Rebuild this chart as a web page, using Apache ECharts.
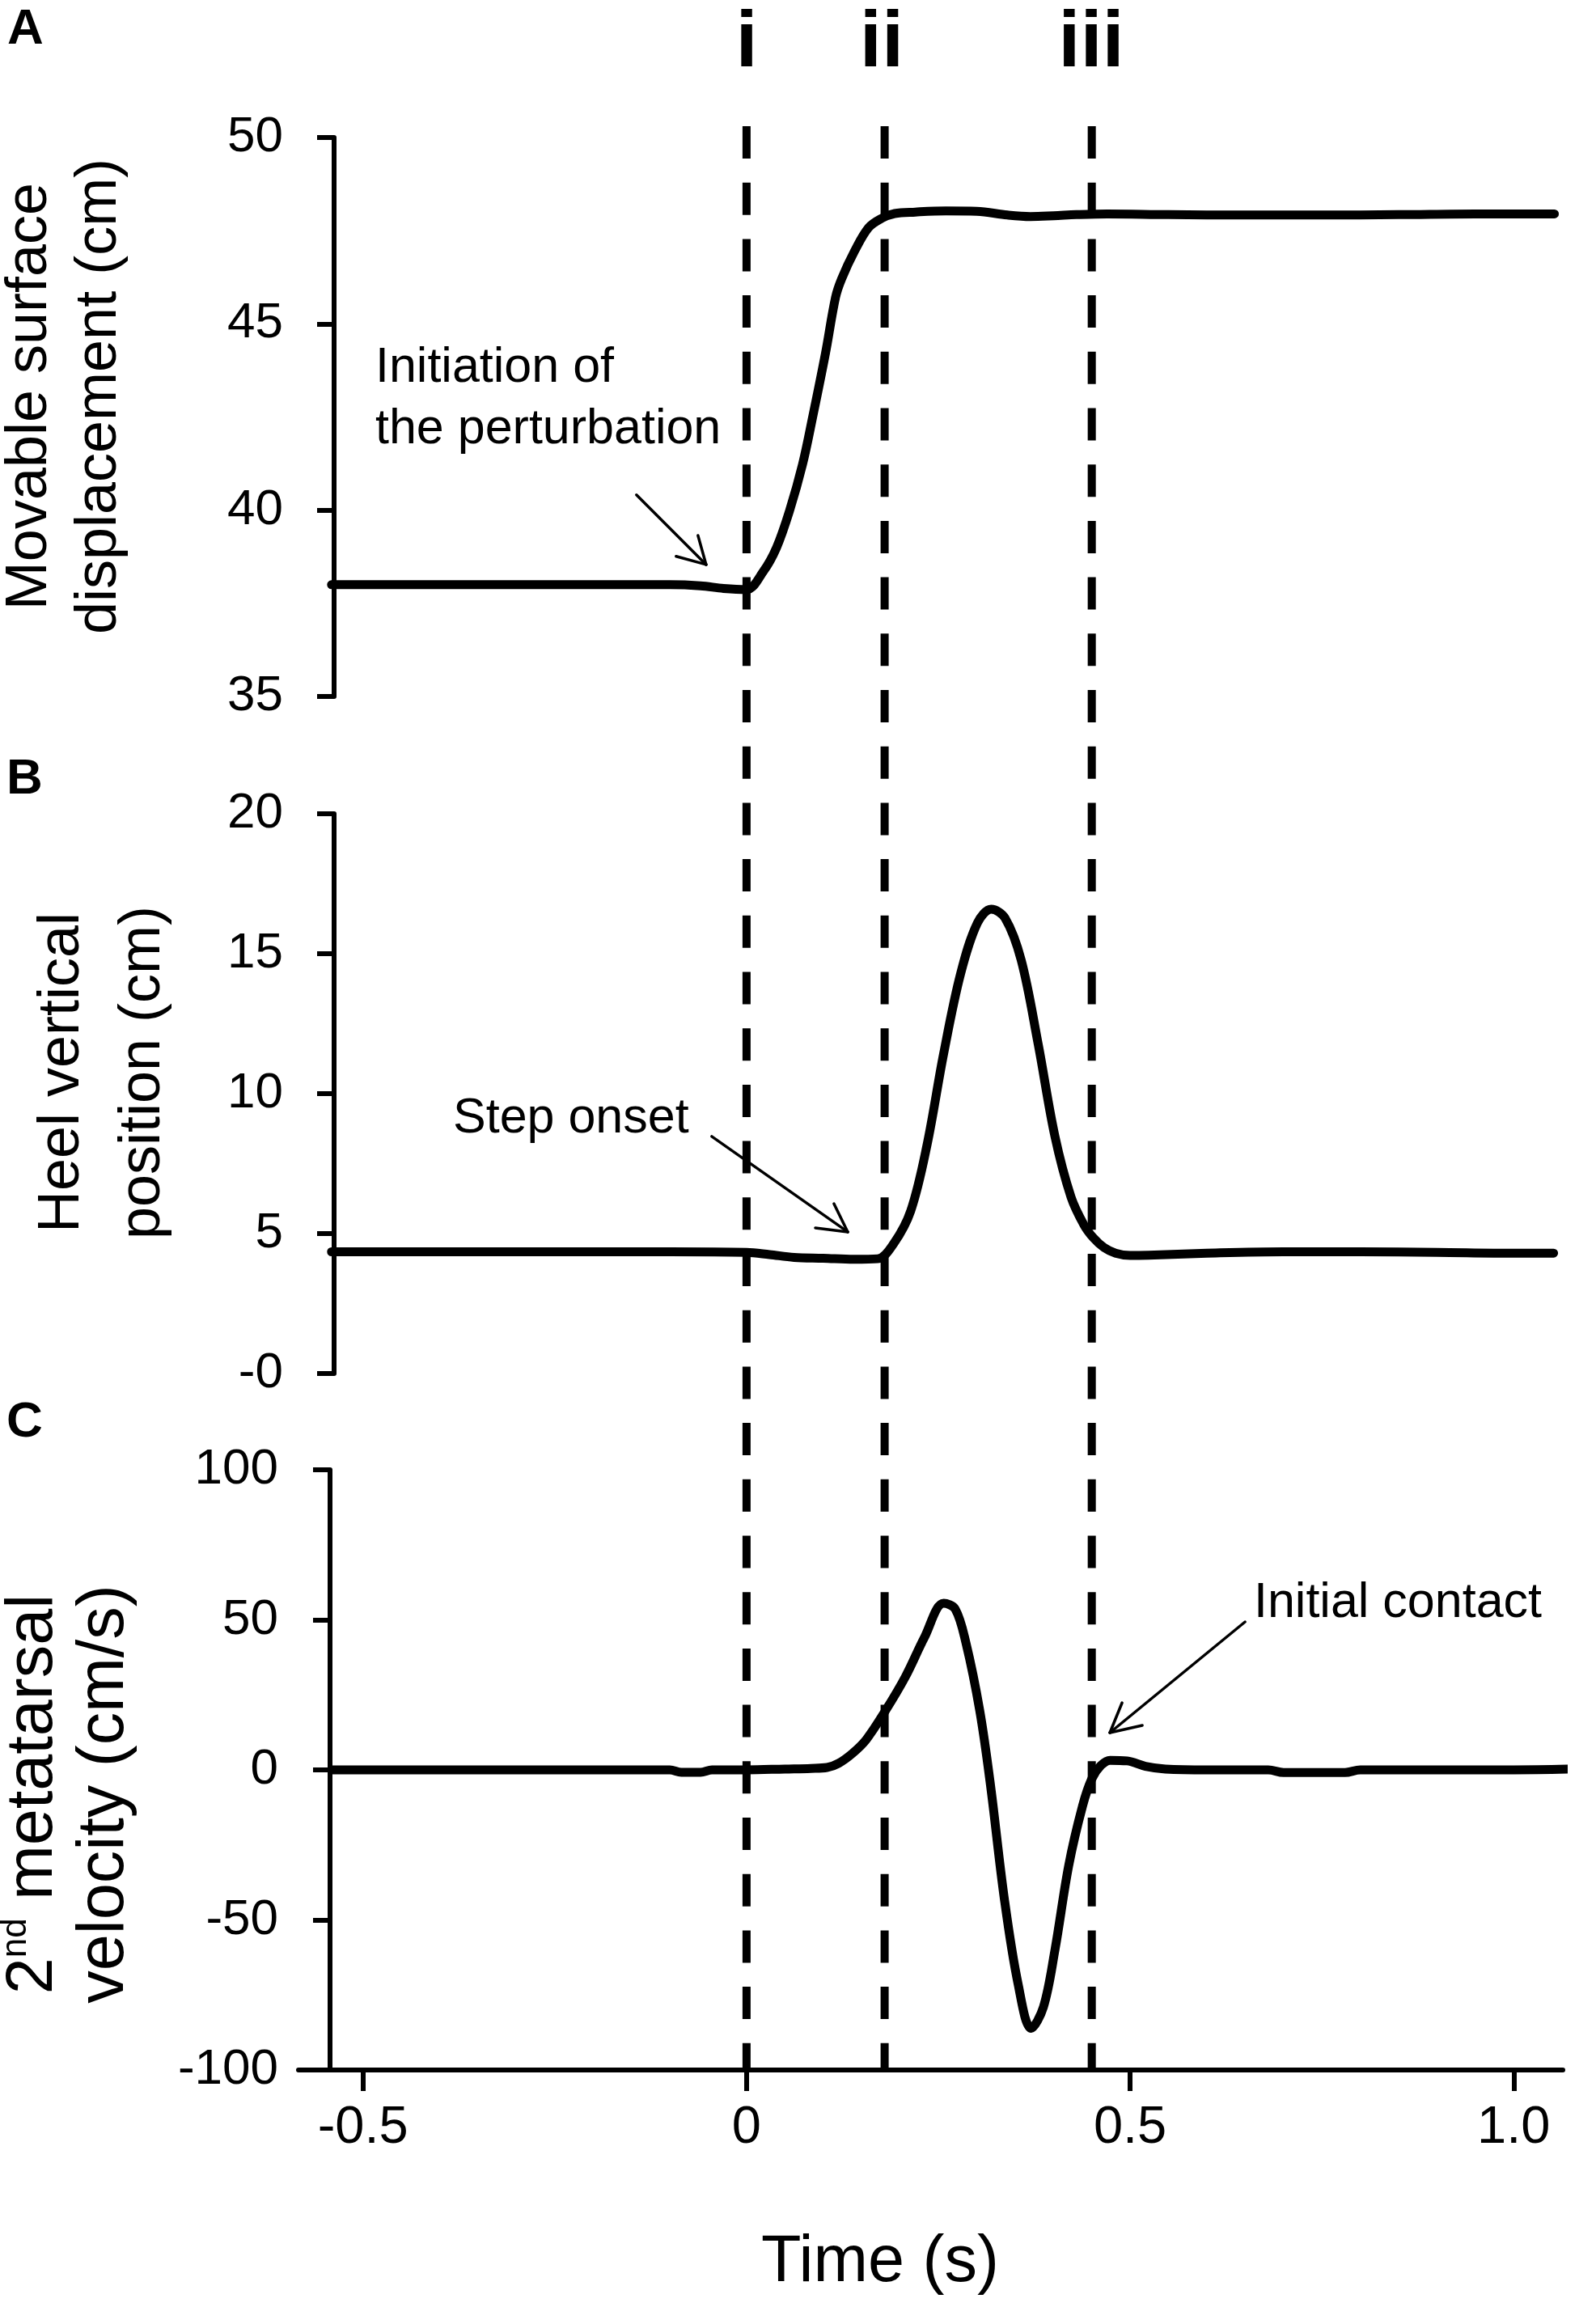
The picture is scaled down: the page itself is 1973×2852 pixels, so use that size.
<!DOCTYPE html>
<html>
<head>
<meta charset="utf-8">
<script src="https://cdn.jsdelivr.net/npm/echarts@6/dist/echarts.min.js"></script>
<style>
html,body{margin:0;padding:0;background:#ffffff;}
#chart{width:1973px;height:2852px;}
</style>
</head>
<body>
<div id="chart"></div>
<script>
// ---------------- DATA ----------------
// Panel A: movable surface displacement (cm) vs time (s)
const timeA = [-0.541, -0.45, -0.35, -0.25, -0.15, -0.10, -0.06, -0.03, 0.0, 0.022, 0.039, 0.056, 0.073, 0.086, 0.103, 0.116, 0.124, 0.141, 0.159, 0.176, 0.193, 0.22, 0.26, 0.30, 0.34, 0.37, 0.40, 0.43, 0.47, 0.55, 0.65, 0.75, 0.85, 0.95, 1.053];
const dispA = [38.0, 38.0, 38.0, 38.0, 38.0, 38.0, 37.97, 37.9, 37.87, 38.36, 38.99, 39.98, 41.23, 42.48, 44.22, 45.71, 46.21, 46.96, 47.58, 47.83, 47.96, 48.0, 48.03, 48.02, 47.92, 47.88, 47.9, 47.93, 47.95, 47.93, 47.92, 47.92, 47.93, 47.95, 47.95];

// Panel B: heel vertical position (cm)
const timeB = [-0.541, -0.4, -0.3, -0.2, -0.1, 0.0, 0.03, 0.062, 0.1, 0.14, 0.171, 0.192, 0.214, 0.235, 0.257, 0.279, 0.301, 0.319, 0.337, 0.358, 0.380, 0.402, 0.423, 0.44, 0.452, 0.466, 0.481, 0.50, 0.524, 0.6, 0.7, 0.8, 0.9, 1.0, 1.052];
const heelB = [4.35, 4.35, 4.35, 4.35, 4.35, 4.33, 4.25, 4.15, 4.12, 4.08, 4.10, 4.65, 5.81, 8.13, 11.44, 14.28, 16.1, 16.59, 16.27, 14.77, 11.79, 8.47, 6.30, 5.3, 4.85, 4.5, 4.3, 4.22, 4.23, 4.3, 4.35, 4.35, 4.33, 4.3, 4.3];

// Panel C: 2nd metatarsal velocity (cm/s)
const timeC = [-0.541, -0.4, -0.3, -0.2, -0.1, -0.085, -0.06, -0.045, 0.0, 0.05, 0.084, 0.105, 0.12, 0.138, 0.156, 0.181, 0.207, 0.232, 0.257, 0.272, 0.286, 0.304, 0.318, 0.336, 0.354, 0.371, 0.387, 0.402, 0.42, 0.438, 0.45, 0.462, 0.474, 0.496, 0.52, 0.546, 0.6, 0.68, 0.70, 0.78, 0.80, 0.9, 1.0, 1.098];
const velC = [0, 0, 0, 0, 0, -0.8, -0.8, 0, 0, 0.3, 0.5, 0.8, 2.2, 5.5, 10.1, 19.7, 31, 44.2, 55.5, 53.6, 42.3, 19.7, -5.1, -42.9, -71.4, -86.1, -79, -60, -31.8, -12, -3, 1.5, 3.2, 3.0, 1.2, 0.3, 0, 0, -0.9, -0.9, 0, 0, 0, 0.4];

// Event markers (dashed verticals)
const eventTimes = [0, 0.18, 0.45];
const eventLabels = ['i', 'ii', 'iii'];

// Axis ticks / labels
const xTicks = [-0.5, 0, 0.5, 1.0];
const xTickLabels = ['-0.5', '0', '0.5', '1.0'];
const yTicksB = [0, 5, 10, 15, 20];
const yTickLabelsB = ['-0', '5', '10', '15', '20'];

// Annotation arrows in data coordinates: start, tip, barb1, barb2
const arrowA = [[-0.1435, 40.41], [-0.0527, 38.54], [-0.0918, 38.76], [-0.0633, 39.32]];
const arrowB = [[-0.0454, 8.47], [0.1319, 5.06], [0.0897, 5.20], [0.1139, 6.07]];
const arrowC = [[0.6498, 49.33], [0.4736, 12.4], [0.4895, 22.37], [0.5158, 14.83]];

// ---------------- BUILD ----------------
const FONT = '"Liberation Sans", Arial, Helvetica, sans-serif';
const X_MIN = -0.584, X_MAX = 1.064;
const zip = (a, b) => a.map((v, i) => [v, b[i]]);

function arrowSegs(a) {
  const tip = a[1];
  return [
    [{coord: a[0]}, {coord: tip}],
    [{coord: a[2]}, {coord: tip}],
    [{coord: a[3]}, {coord: tip}]
  ];
}
function arrowMarkLine(a) {
  return {
    silent: true,
    symbol: ['none', 'none'],
    label: {show: false},
    emphasis: {disabled: true},
    animation: false,
    lineStyle: {color: '#000', width: 3.5, type: 'solid', cap: 'round'},
    data: arrowSegs(a)
  };
}
function dataSeries(idx, t, v, arrow) {
  return {
    type: 'line', xAxisIndex: idx, yAxisIndex: idx,
    data: zip(t, v), symbol: 'none', showSymbol: false,
    smooth: 0.35, clip: false, z: 5,
    lineStyle: {color: '#000', width: 11, cap: 'round', join: 'round'},
    emphasis: {disabled: true},
    markLine: arrowMarkLine(arrow),
    animation: false
  };
}

const gridLeft = 369, gridRight = 41;
const grids = [
  {left: gridLeft, right: gridRight, top: 170, height: 691, outerBoundsMode: 'none', containLabel: false},
  {left: gridLeft, right: gridRight, top: 1006, height: 692, outerBoundsMode: 'none', containLabel: false},
  {left: gridLeft, right: gridRight, top: 1817, height: 742, outerBoundsMode: 'none', containLabel: false},
  {left: gridLeft, right: gridRight, top: 156, height: 2403, outerBoundsMode: 'none', containLabel: false}
];

const axisLineStyle = {color: '#000', width: 6};
function hiddenX(i) { return {gridIndex: i, type: 'value', min: X_MIN, max: X_MAX, show: false}; }
function yAxisDef(i, min, max, interval, offset, margin, formatter) {
  return {
    gridIndex: i, type: 'value', min: min, max: max, interval: interval, offset: offset,
    axisLine: {show: true, onZero: false, lineStyle: axisLineStyle},
    axisTick: {show: true, length: 21, lineStyle: axisLineStyle},
    axisLabel: {show: true, fontSize: 62, color: '#000', fontFamily: FONT, margin: margin, formatter: formatter},
    splitLine: {show: false}
  };
}

const option = {
  animation: false,
  backgroundColor: '#ffffff',
  grid: grids,
  xAxis: [
    hiddenX(0), hiddenX(1),
    {
      gridIndex: 2, type: 'value', min: X_MIN, max: X_MAX,
      axisLine: {show: true, onZero: false, lineStyle: axisLineStyle},
      axisTick: {show: true, length: 26, lineStyle: axisLineStyle, customValues: xTicks},
      axisLabel: {show: true, fontSize: 65, color: '#000', fontFamily: FONT, margin: 40,
        customValues: xTicks,
        formatter: v => { const k = xTicks.findIndex(t => Math.abs(t - v) < 1e-9); return k >= 0 ? xTickLabels[k] : ''; }},
      splitLine: {show: false}
    },
    hiddenX(3)
  ],
  yAxis: [
    yAxisDef(0, 35, 50, 5, -44, 63),
    yAxisDef(1, 0, 20, 5, -44, 63, v => { const k = yTicksB.indexOf(v); return k >= 0 ? yTickLabelsB[k] : String(v); }),
    yAxisDef(2, -100, 100, 50, -39, 64),
    {gridIndex: 3, type: 'value', min: 0, max: 1, show: false}
  ],
  series: [
    dataSeries(0, timeA, dispA, arrowA),
    dataSeries(1, timeB, heelB, arrowB),
    dataSeries(2, timeC, velC, arrowC)
  ].concat(eventTimes.map(t => ({
    type: 'line', xAxisIndex: 3, yAxisIndex: 3,
    data: [[t, 1], [t, 0]], symbol: 'none', z: 2,
    lineStyle: {color: '#000', width: 10, type: [40, 29.7], cap: 'butt'},
    emphasis: {disabled: true}, animation: false
  }))),
  graphic: []
};

function txt(x, y, text, size, opts) {
  opts = opts || {};
  return {
    type: 'text', x: x, y: y, rotation: opts.rotation || 0, silent: true,
    style: Object.assign({
      text: text, fontSize: size, fontFamily: opts.family || FONT, fontWeight: opts.weight || 'normal',
      fill: '#000',
      align: opts.align || 'left', textAlign: opts.align || 'left',
      verticalAlign: 'middle', textVerticalAlign: 'middle',
      lineHeight: opts.lineHeight
    }, opts.extra || {})
  };
}

const g = [];
// panel letters
g.push(txt(9, 37, 'A', 62, {weight: 'bold'}));
g.push(txt(8, 964, 'B', 62, {weight: 'bold'}));
g.push(txt(8, 1759, 'C', 62, {weight: 'bold'}));
// event labels (positioned above dashed lines)
const romanX = [923, 1090, 1349];
eventLabels.forEach((s, i) => g.push(txt(romanX[i], 55, s, 98,
  {weight: 'bold', align: 'center', family: '"Liberation Sans Narrow", "Arial Narrow", ' + FONT})));
// annotations
g.push(txt(464, 455, 'Initiation of', 61));
g.push(txt(464, 531, 'the perturbation', 61));
g.push(txt(560, 1383, 'Step onset', 61));
g.push(txt(1550, 1982, 'Initial contact', 61));
// axis titles
g.push(txt(80, 490, 'Movable surface\ndisplacement (cm)', 72, {rotation: Math.PI / 2, align: 'center', lineHeight: 86}));
g.push(txt(127, 1326, 'Heel vertical\nposition (cm)', 72, {rotation: Math.PI / 2, align: 'center', lineHeight: 100}));
g.push({
  type: 'text', x: 86, y: 2218, rotation: Math.PI / 2, silent: true,
  style: {
    text: '{n|2}{s|nd}{n| metatarsal}\n{n|velocity (cm/s)}',
    align: 'center', textAlign: 'center', verticalAlign: 'middle', textVerticalAlign: 'middle',
    fill: '#000', fontSize: 81, fontFamily: FONT,
    rich: {
      n: {fontSize: 81, fontFamily: FONT, lineHeight: 88, fill: '#000'},
      s: {fontSize: 44, fontFamily: FONT, lineHeight: 60, verticalAlign: 'top', fill: '#000'}
    }
  }
});
g.push(txt(1088, 2798, 'Time (s)', 81, {align: 'center'}));
option.graphic = g;

const chart = echarts.init(document.getElementById('chart'), null, {renderer: 'canvas', width: 1973, height: 2852});
chart.setOption(option);
</script>
</body>
</html>
